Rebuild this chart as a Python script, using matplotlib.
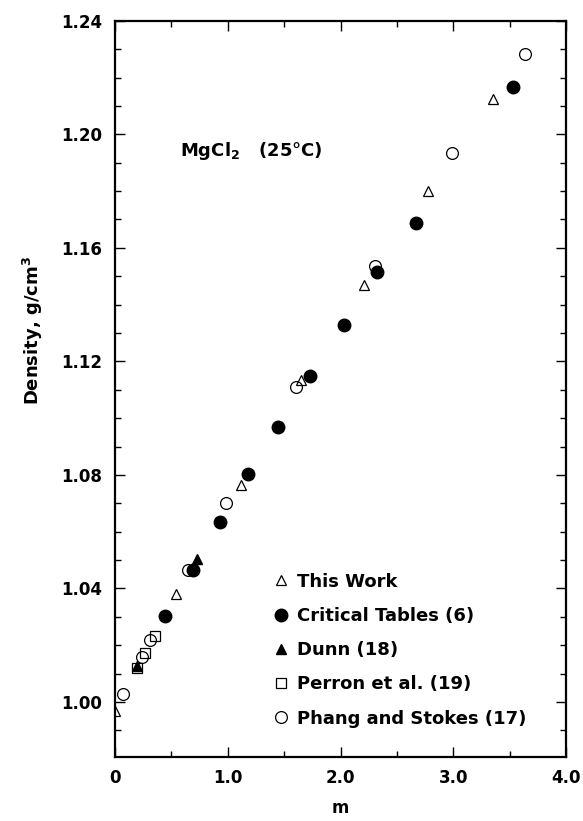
import matplotlib
matplotlib.use("Agg")
import matplotlib.pyplot as plt
from matplotlib.ticker import MultipleLocator, FixedLocator, FixedFormatter

# This Work (open triangles)
tw_m = [0.00, 0.545, 1.116, 1.652, 2.205, 2.777, 3.357]
tw_d = [0.9968, 1.0379, 1.0765, 1.1133, 1.1469, 1.1802, 1.2124]
# Critical Tables (filled circles)
ct_m = [0.446, 0.688, 0.929, 1.179, 1.446, 1.732, 2.027, 2.32, 2.67, 3.53]
ct_d = [1.0304, 1.0464, 1.0634, 1.0804, 1.0970, 1.1150, 1.1327, 1.1516, 1.1688, 1.2166]
# Dunn (filled triangles)
dn_m = [0.196, 0.723]
dn_d = [1.0127, 1.0503]
# Perron et al. (open squares)
pe_m = [0.196, 0.268, 0.357]
pe_d = [1.0120, 1.0173, 1.0234]
# Phang and Stokes (open circles)
ps_m = [0.071, 0.241, 0.313, 0.643, 0.982, 1.607, 2.31, 2.99, 3.634]
ps_d = [1.0028, 1.0159, 1.0219, 1.0464, 1.0701, 1.1108, 1.1536, 1.1933, 1.2283]

labels = ["This Work", "Critical Tables (6)", "Dunn (18)", "Perron et al. (19)",
          "Phang and Stokes (17)"]
xticks = [0, 1.0, 2.0, 3.0, 4.0]
xticklabels = ["0", "1.0", "2.0", "3.0", "4.0"]
yticks = [1.00, 1.04, 1.08, 1.12, 1.16, 1.20, 1.24]
yticklabels = ["1.00", "1.04", "1.08", "1.12", "1.16", "1.20", "1.24"]

plt.rcParams['font.family'] = ['DejaVu Sans']
plt.rcParams['mathtext.default'] = 'regular'

fig = plt.figure(figsize=(5.83, 8.21), dpi=100)
ax = fig.add_axes([0.1973, 0.078, 0.7735, 0.8966])

ax.plot(tw_m, tw_d, ls='none', marker='^', ms=7.5, mfc='white', mec='black', mew=0.9, label=labels[0])
ax.plot(ct_m, ct_d, ls='none', marker='o', ms=9, mfc='black', mec='black', label=labels[1])
ax.plot(dn_m, dn_d, ls='none', marker='^', ms=7.5, mfc='black', mec='black', label=labels[2])
ax.plot(pe_m, pe_d, ls='none', marker='s', ms=7.5, mfc='none', mec='black', mew=0.9, label=labels[3])
ax.plot(ps_m, ps_d, ls='none', marker='o', ms=8.5, mfc='none', mec='black', mew=0.9, label=labels[4])

ax.set_xlim(0, 4.0)
ax.set_ylim(0.9806, 1.2400)

ax.xaxis.set_major_locator(FixedLocator(xticks))
ax.xaxis.set_major_formatter(FixedFormatter(xticklabels))
ax.xaxis.set_minor_locator(MultipleLocator(0.5))
ax.yaxis.set_major_locator(FixedLocator(yticks))
ax.yaxis.set_major_formatter(FixedFormatter(yticklabels))
ax.yaxis.set_minor_locator(MultipleLocator(0.01))

ax.tick_params(which='both', direction='in', top=True, right=True, width=1.0)
ax.tick_params(which='major', length=7, labelsize=12, pad=9)
ax.tick_params(which='minor', length=4)
for lab in ax.get_xticklabels() + ax.get_yticklabels():
    lab.set_fontweight('bold')
for s in ax.spines.values():
    s.set_linewidth(1.6)

ax.set_xlabel("m", fontsize=12, fontweight='bold', labelpad=8)
ax.set_ylabel("Density, g/cm$^3$", fontsize=13, fontweight='bold')
ax.yaxis.set_label_coords(-0.155, 0.579)

ax.text(0.58, 1.194, "MgCl$_2$   (25°C)", fontsize=13, fontweight='bold', va='center')

leg = ax.legend(loc='lower left', bbox_to_anchor=(0.331, 0.03), frameon=False,
                fontsize=13, labelspacing=0.9, handletextpad=0.4, handlelength=1.0,
                borderaxespad=0)
for t in leg.get_texts():
    t.set_fontweight('bold')

fig.savefig("out.png", dpi=100)
